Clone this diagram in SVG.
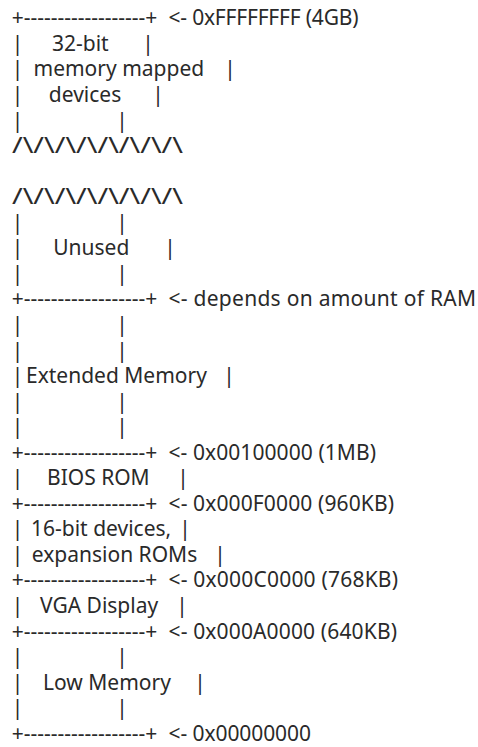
<svg xmlns="http://www.w3.org/2000/svg" width="478" height="747" viewBox="0 0 478 747">
<style>
text{font-family:"Noto Sans","Open Sans",sans-serif;font-size:21px;fill:#2a2a2a}
.b{text-anchor:middle}
</style>
<rect width="478" height="747" fill="#ffffff"/>
<g id="devices32">
<text x="11.7" y="25.3" textLength="145.6">+------------------+</text>
<text x="168.5" y="25.3" textLength="190">&lt;- 0xFFFFFFFF (4GB)</text>
<text class="b" x="17.5" y="50.9">|</text><text x="52" y="50.9">32-bit</text><text class="b" x="148" y="50.9">|</text>
<text class="b" x="17.5" y="76.4">|</text><text x="33.5" y="76.4">memory mapped</text><text class="b" x="230" y="76.4">|</text>
<text class="b" x="17.5" y="102">|</text><text x="48.8" y="102">devices</text><text class="b" x="158" y="102">|</text>
<text class="b" x="17.5" y="127.5">|</text><text class="b" x="122" y="127.5">|</text>
<text x="12" y="153.1" textLength="171" lengthAdjust="spacingAndGlyphs">/\/\/\/\/\/\/\/\</text>
</g>
<g id="unused">
<text x="12" y="204.2" textLength="171" lengthAdjust="spacingAndGlyphs">/\/\/\/\/\/\/\/\</text>
<text class="b" x="17.5" y="229.7">|</text><text class="b" x="122" y="229.7">|</text>
<text class="b" x="17.5" y="255.3">|</text><text x="53.2" y="255.3">Unused</text><text class="b" x="170" y="255.3">|</text>
<text class="b" x="17.5" y="280.8">|</text><text class="b" x="122" y="280.8">|</text>
<text x="11.7" y="306.4" textLength="145.6">+------------------+</text>
<text x="168.5" y="306.4" textLength="307.5">&lt;- depends on amount of RAM</text>
</g>
<g id="extended">
<text class="b" x="17.5" y="331.9">|</text><text class="b" x="122" y="331.9">|</text>
<text class="b" x="17.5" y="357.5">|</text><text class="b" x="122" y="357.5">|</text>
<text class="b" x="17.5" y="383">|</text><text x="26" y="383">Extended Memory</text><text class="b" x="229" y="383">|</text>
<text class="b" x="17.5" y="408.6">|</text><text class="b" x="122" y="408.6">|</text>
<text class="b" x="17.5" y="434.1">|</text><text class="b" x="122" y="434.1">|</text>
<text x="11.7" y="459.7" textLength="145.6">+------------------+</text>
<text x="168.5" y="459.7" textLength="207.5">&lt;- 0x00100000 (1MB)</text>
</g>
<g id="bios">
<text class="b" x="17.5" y="485.2">|</text><text x="47" y="485.2">BIOS ROM</text><text class="b" x="183" y="485.2">|</text>
<text x="11.7" y="510.8" textLength="145.6">+------------------+</text>
<text x="168.5" y="510.8" textLength="225.5">&lt;- 0x000F0000 (960KB)</text>
</g>
<g id="devices16">
<text class="b" x="17.5" y="536.3">|</text><text x="31" y="536.3">16-bit devices,</text><text class="b" x="185" y="536.3">|</text>
<text class="b" x="17.5" y="561.9">|</text><text x="31.8" y="561.9">expansion ROMs</text><text class="b" x="220" y="561.9">|</text>
<text x="11.7" y="587.4" textLength="145.6">+------------------+</text>
<text x="168.5" y="587.4" textLength="229.5">&lt;- 0x000C0000 (768KB)</text>
</g>
<g id="vga">
<text class="b" x="17.5" y="613">|</text><text x="40" y="613">VGA Display</text><text class="b" x="182" y="613">|</text>
<text x="11.7" y="638.5" textLength="145.6">+------------------+</text>
<text x="168.5" y="638.5" textLength="228.5">&lt;- 0x000A0000 (640KB)</text>
</g>
<g id="low">
<text class="b" x="17.5" y="664.1">|</text><text class="b" x="122" y="664.1">|</text>
<text class="b" x="17.5" y="689.6">|</text><text x="43" y="689.6">Low Memory</text><text class="b" x="200" y="689.6">|</text>
<text class="b" x="17.5" y="715.2">|</text><text class="b" x="122" y="715.2">|</text>
<text x="11.7" y="740.7" textLength="145.6">+------------------+</text>
<text x="168.5" y="740.7" textLength="142.5">&lt;- 0x00000000</text>
</g>
</svg>
